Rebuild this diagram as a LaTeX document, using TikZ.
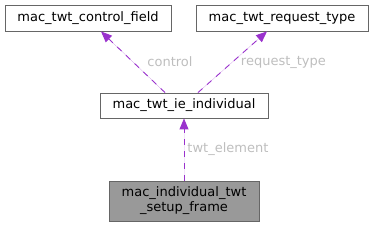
\documentclass[tikz,border=0pt]{standalone}
\usepackage{fontspec}
\setmainfont{DejaVu Sans}
\usepackage{xcolor}
\usepackage{tikz}
\usetikzlibrary{arrows.meta}

\definecolor{edgepurple}{HTML}{9A32CD}
\definecolor{lblgray}{HTML}{BEBEBE}
\definecolor{boxline}{HTML}{666666}
\definecolor{boxfill}{HTML}{999999}

\begin{document}
\begin{tikzpicture}[
      x=1pt, y=1pt,
      box/.style={rectangle, draw=boxline, line width=0.9pt, fill=white,
                  align=center, inner sep=0pt, minimum height=26pt,
                  font=\fontsize{13}{15}\selectfont},
      arr/.style={-{Triangle[length=11pt,width=9pt]}, draw=edgepurple,
                  fill=edgepurple, line width=0.9pt, dash pattern=on 6pt off 6pt},
      lbl/.style={font=\fontsize{13}{15}\selectfont, text=lblgray, inner sep=0pt}
    ]
    \useasboundingbox (0,0) rectangle (373,227);
    \node[box,minimum width=166pt] (ctrl) at (88,209) {mac\_twt\_control\_field};
    \node[box,minimum width=172pt] (req) at (282,209) {mac\_twt\_request\_type};
    \node[box,minimum width=168pt,minimum height=25pt] (ie) at (184,121.5) {mac\_twt\_ie\_individual};
    \node[box,minimum width=150pt,minimum height=40pt,fill=boxfill] (frame) at (184,26)
      {mac\_individual\_twt\\\_setup\_frame};
    \draw[arr] ([xshift=-19pt]ie.north) -- ([xshift=13pt]ctrl.south)
      node[lbl,pos=0.5,anchor=west,xshift=14pt] {control};
    \draw[arr] ([xshift=14pt]ie.north) -- ([xshift=-15pt]req.south)
      node[lbl,pos=0.5,anchor=west,xshift=8pt] {request\_type};
    \draw[arr] (frame.north) -- (ie.south)
      node[lbl,pos=0.5,anchor=west,xshift=3pt] {twt\_element};
  \end{tikzpicture}
\end{document}
